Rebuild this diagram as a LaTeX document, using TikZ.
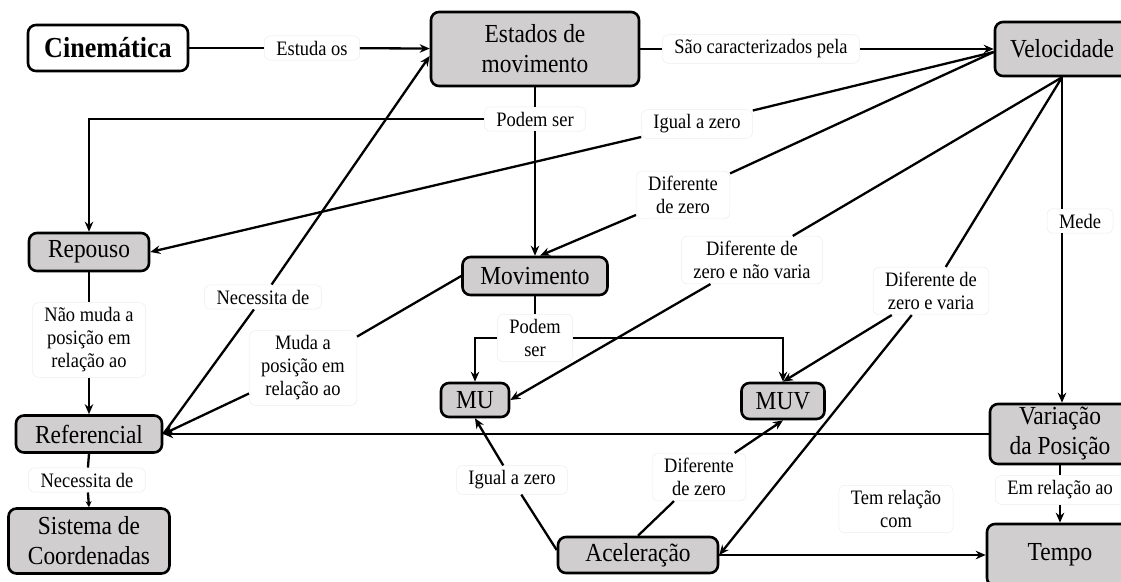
\documentclass[tikz,border=0pt]{standalone}
\usepackage{fontspec}
\setmainfont{Liberation Serif}[FakeStretch=0.9]
\usetikzlibrary{arrows.meta}
\definecolor{boxgray}{RGB}{208,206,206}
\begin{document}
\begin{tikzpicture}[x=1pt,y=-1pt,
  concept/.style={draw=black, line width=2.6pt, rounded corners=8pt, fill=boxgray,
    font=\fontsize{26}{30}\selectfont, align=center, inner sep=0pt},
  lab/.style={fill=white, rounded corners=6pt, draw=black!7, line width=0.5pt,
    font=\fontsize{20.5}{23}\selectfont, align=center, inner xsep=12pt, inner ysep=5pt},
  conn/.style={line width=2.3pt},
  arr/.style={conn, -{Stealth[length=10pt,width=8.5pt]}},
  sarr/.style={conn, -{Stealth[length=6pt,width=6pt]}},
]
\useasboundingbox (0,0) rectangle (1121,581);

% concept boxes
\node[concept, fill=white, font=\bfseries\fontsize{29}{32}\selectfont, minimum width=160pt, minimum height=46pt] (cin) at (108,48) {Cinemática};
\node[concept, minimum width=208pt, minimum height=74pt] (est) at (535,49) {Estados de\\movimento};
\node[concept, minimum width=134pt, minimum height=54pt] (vel) at (1062,49) {Velocidade};
\node[concept, minimum width=120pt, minimum height=38pt] (rep) at (89,252) {Repouso};
\node[concept, minimum width=145pt, minimum height=38pt] (mov) at (535,276) {Movimento};
\node[concept, minimum width=68pt, minimum height=34pt] (mu) at (475,400) {MU};
\node[concept, minimum width=83pt, minimum height=36pt] (muv) at (783,401) {MUV};
\node[concept, minimum width=146pt, minimum height=37pt] (ref) at (89,434) {Referencial};
\node[concept, minimum width=161pt, minimum height=65pt] (sis) at (89,541) {Sistema de\\Coordenadas};
\node[concept, minimum width=160pt, minimum height=36pt] (ace) at (638,555) {Aceleração};
\node[concept, minimum width=140pt, minimum height=60pt] (var) at (1060,434) {Variação\\da Posição};
\node[concept, minimum width=146pt, minimum height=62pt] (tem) at (1060,555) {Tempo};

% link labels
\node[lab] (l1) at (312,48) {Estuda os};
\node[lab] (l2) at (761,49) {São caracterizados pela};
\node[lab] (l3) at (535,119) {Podem ser};
\node[lab] (l4) at (697,124) {Igual a zero};
\node[lab] (l5) at (683,195) {Diferente\\de zero};
\node[lab] (l6) at (752,260) {Diferente de\\zero e não varia};
\node[lab] (l7) at (931,291) {Diferente de\\zero e varia};
\node[lab] (l8) at (1080,221) {Mede};
\node[lab] (l9) at (89,340) {Não muda a\\posição em\\relação ao};
\node[lab] (l10) at (87,480) {Necessita de};
\node[lab] (l11) at (303,368) {Muda a\\posição em\\relação ao};
\node[lab] (l12) at (263,297) {Necessita de};
\node[lab] (l13) at (535,338) {Podem\\ser};
\node[lab] (l14) at (512,480) {Igual a zero};
\node[lab] (l15) at (699,477) {Diferente\\de zero};
\node[lab] (l16) at (896,509) {Tem relação\\com};
\node[lab] (l17) at (1060,490) {Em relação ao};

% connectors
\draw[conn] (cin) -- (l1);
\draw[arr] (l1) -- (est);
\draw[conn] (est) -- (l2);
\draw[arr] (l2) -- (vel);

\draw[conn] (est.south) -- (l3);
\draw[arr] (l3) -- (mov.north);
\draw[arr] (l3.west) -| (rep.north);

\draw[conn] ([yshift=-3pt]vel.west) -- (l4);
\draw[arr] (l4) -- (rep.east);
\draw[conn] ([yshift=-3pt]vel.west) -- (l5);
\draw[arr] (l5) -- ([xshift=5pt]mov.north);
\draw[conn] (vel.south) -- (l6);
\draw[arr] (l6) -- (mu.east);
\draw[conn] (vel.south) -- (l7);
\draw[arr] (l7) -- (muv.north);
\draw[arr] (l7) -- (ace.east);
\draw[conn] (vel.south) -- (vel.south |- l8.north);
\draw[arr] (vel.south |- l8.south) -- (vel.south |- var.north);

\draw[conn] (rep.south) -- (l9);
\draw[arr] (l9) -- (ref.north);
\draw[conn] (ref.south) -- (l10);
\draw[sarr] (l10) -- (sis.north);

\draw[conn] (mov.west) -- (l11);
\draw[arr] (l11) -- (ref.east);
\draw[conn] (ref.east) -- (l12);
\draw[arr] (l12) -- ([yshift=-7pt]est.west);

\draw[conn] (mov.south) -- (l13);
\draw[arr] (l13.west) -| (mu.north);
\draw[arr] (l13.east) -| (muv.north);

\draw[arr] (var.west) -- (ref.east);
\draw[conn] (var.south) -- (l17);
\draw[arr] (l17) -- (tem.north);

\draw[conn] ([yshift=5pt]ace.west) -- (l14);
\draw[arr] (l14) -- (mu.south);
\draw[conn] (ace.north) -- (l15);
\draw[arr] (l15) -- (muv.south);
\draw[arr] (ace.east) -- (tem.west);
\end{tikzpicture}
\end{document}
